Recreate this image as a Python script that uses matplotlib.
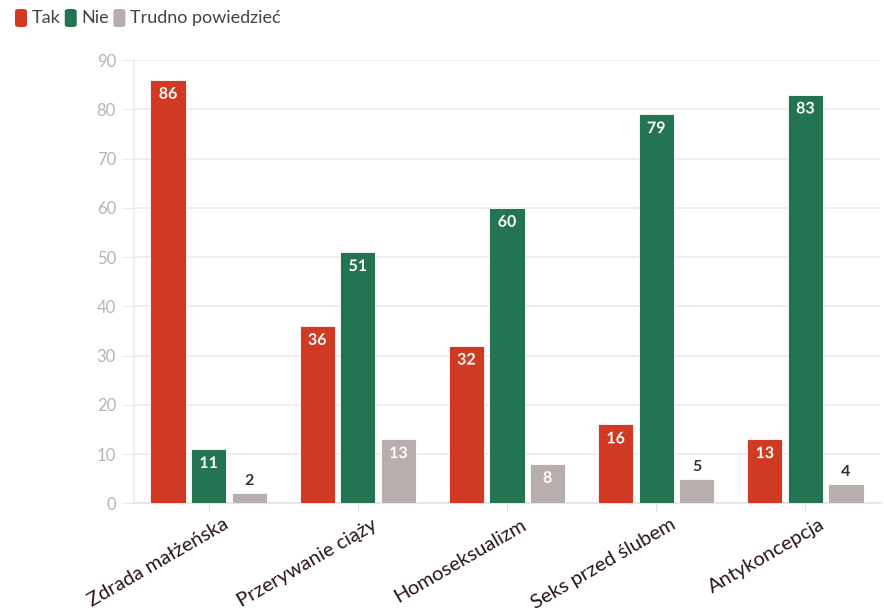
import matplotlib
matplotlib.use('Agg')
import matplotlib.pyplot as plt
import matplotlib.patheffects as pe
import matplotlib.transforms as mtransforms
from matplotlib.patches import FancyBboxPatch
import numpy as np

plt.rcParams['font.family'] = ['Lato', 'DejaVu Sans']

# data
categories = ["Zdrada małżeńska", "Przerywanie ciąży", "Homoseksualizm",
              "Seks przed ślubem", "Antykoncepcja"]
series_names = ["Tak", "Nie", "Trudno powiedzieć"]
tak = [86, 36, 32, 16, 13]
nie = [11, 51, 60, 79, 83]
trudno = [2, 13, 8, 5, 4]
colors = ["#D13A22", "#237452", "#B8AEAE"]

fig = plt.figure(figsize=(8.84, 6.13), dpi=100)
ax = fig.add_axes([134 / 884, 0.179, 746 / 884, 0.723])

x = np.arange(len(categories))
width = 0.236
offset = 0.272

for i, (vals, col) in enumerate(zip([tak, nie, trudno], colors)):
    pos = x + (i - 1) * offset
    ax.bar(pos, vals, width, color=col, edgecolor="white", linewidth=0.6, zorder=3)
    for px, v in zip(pos, vals):
        if v >= 7:
            ax.text(px, v - 1.6, str(v), ha="center", va="top", color="white",
                    fontsize=11.5, fontweight="bold", zorder=4,
                    path_effects=[pe.withStroke(linewidth=2.5, foreground=col)])
        else:
            ax.text(px, v + 1.0, str(v), ha="center", va="bottom", color="#333333",
                    fontsize=11.5, fontweight="bold", zorder=4)

ax.set_xlim(-0.5, len(categories) - 0.5)
ax.set_ylim(0, 90)
ax.set_yticks(range(0, 91, 10))
ax.grid(axis="y", color="#ebebeb", linewidth=1.2, zorder=0)
ax.set_axisbelow(True)

for s in ["top", "right"]:
    ax.spines[s].set_visible(False)
ax.spines["left"].set_color("#ebebeb")
ax.spines["left"].set_linewidth(1.2)
ax.spines["bottom"].set_color("#e6e6e6")
ax.spines["bottom"].set_linewidth(1.5)

ax.tick_params(axis="y", length=9, color="#ebebeb", labelcolor="#b5b5b5",
               labelsize=12, pad=4)
ax.set_xticks(x)
ax.set_xticklabels(categories, rotation=30, ha="right", rotation_mode="anchor",
                   fontsize=14.5, color="#2b1616")
ax.tick_params(axis="x", length=6, color="#e0e0e0", pad=3)
shift = mtransforms.ScaledTranslation(14 / 100, 0, fig.dpi_scale_trans)
for lbl in ax.get_xticklabels():
    lbl.set_transform(lbl.get_transform() + shift)

# legend
lx = 15
for name, col in zip(series_names, colors):
    fig.patches.append(FancyBboxPatch((lx / 884, 1 - 27 / 613), 12 / 884, 18 / 613,
                                      boxstyle="round,pad=0,rounding_size=0.004",
                                      transform=fig.transFigure, facecolor=col,
                                      edgecolor="none"))
    t = fig.text((lx + 17) / 884, 1 - 18 / 613, name, fontsize=13, color="#444444",
                 va="center", ha="left")
    fig.canvas.draw()
    bb = t.get_window_extent()
    lx = bb.x1 + 4

fig.savefig("out.png", dpi=100)
